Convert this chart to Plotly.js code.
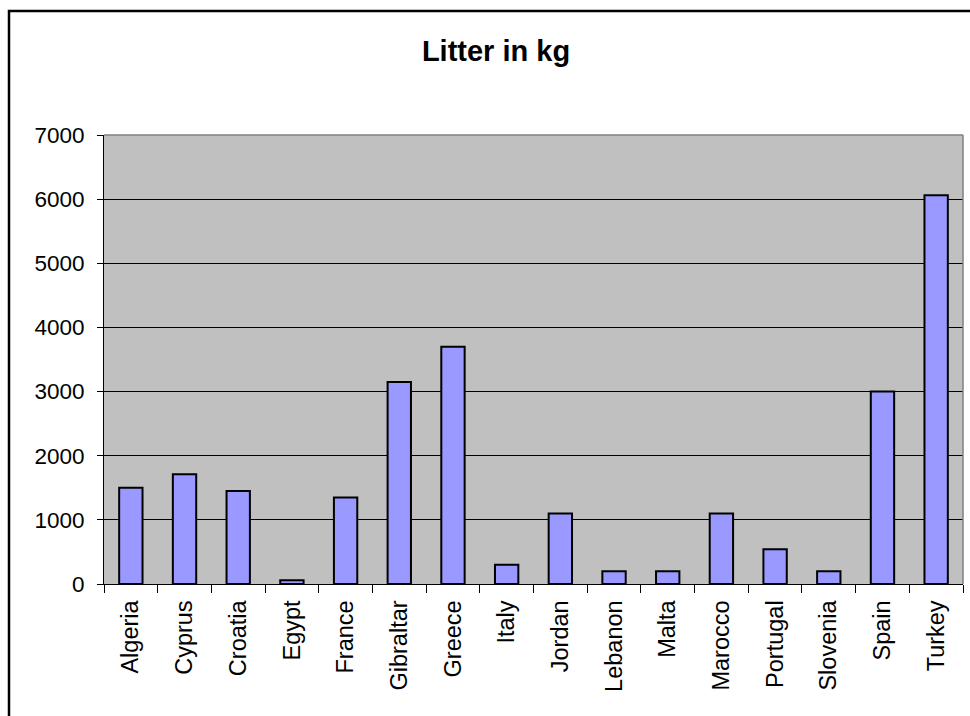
<!DOCTYPE html>
<html>
<head>
<meta charset="utf-8">
<script src="https://cdn.plot.ly/plotly-3.0.1.min.js"></script>
<style>
html,body{margin:0;padding:0;background:#fff;}
#chart{width:970px;height:716px;}
</style>
</head>
<body>
<div id="chart"></div>
<script>
const countries = ["Algeria","Cyprus","Croatia","Egypt","France","Gibraltar","Greece","Italy","Jordan","Lebanon","Malta","Marocco","Portugal","Slovenia","Spain","Turkey"];
const litterKg = [1500,1710,1450,60,1350,3150,3700,300,1100,200,200,1100,540,200,3000,6060];
const yTicks = [0,1000,2000,3000,4000,5000,6000,7000];
const chartTitle = "Litter in kg";

const font = '"Liberation Sans", Arial, sans-serif';

const trace = {
  type: 'bar',
  x: countries,
  y: litterKg,
  marker: {color: '#9999FF', line: {color: '#000000', width: 2}},
  hoverinfo: 'x+y'
};

const layout = {
  width: 970, height: 716,
  margin: {l: 104, r: 7, t: 135, b: 132, pad: 0},
  paper_bgcolor: '#FFFFFF',
  plot_bgcolor: '#C0C0C0',
  showlegend: false,
  bargap: 0.565,
  font: {family: font, color: '#000000'},
  title: {
    text: '<b>' + chartTitle + '</b>',
    font: {family: font, size: 29, color: '#000000'},
    xref: 'container', x: 496/970, xanchor: 'center',
    yref: 'container', y: 1 - 51/716, yanchor: 'middle'
  },
  xaxis: {
    type: 'category',
    tickangle: -90,
    tickfont: {family: font, size: 23.5, color: '#000000'},
    ticks: 'outside', ticklen: 8, tickcolor: '#000000', tickwidth: 1,
    tickson: 'boundaries',
    ticklabelstandoff: 6,
    showline: true, linecolor: '#000000', linewidth: 1,
    showgrid: false, zeroline: false,
    automargin: false
  },
  yaxis: {
    range: [0, 7000],
    tickvals: yTicks,
    ticktext: yTicks.map(String),
    tickfont: {family: font, size: 22.5, color: '#000000'},
    ticks: 'outside', ticklen: 6, tickcolor: '#000000', tickwidth: 1,
    ticklabelstandoff: 8,
    showline: true, linecolor: '#000000', linewidth: 1,
    showgrid: true, gridcolor: '#000000', gridwidth: 1,
    zeroline: false,
    automargin: false
  },
  shapes: [
    {type: 'line', xref: 'paper', yref: 'paper', x0: 0, x1: 1, y0: 1, y1: 1, line: {color: '#808080', width: 1.5}},
    {type: 'line', xref: 'paper', yref: 'paper', x0: 1, x1: 1, y0: 0, y1: 1, line: {color: '#808080', width: 1.5}},
    {type: 'rect', xref: 'paper', yref: 'paper',
     x0: (9 - 104)/859, x1: 1.2, y0: -0.6, y1: 1 + (135 - 11)/449,
     line: {color: '#000000', width: 2.5}, fillcolor: 'rgba(0,0,0,0)'}
  ]
};

Plotly.newPlot('chart', [trace], layout, {displayModeBar: false, staticPlot: true});
</script>
</body>
</html>
